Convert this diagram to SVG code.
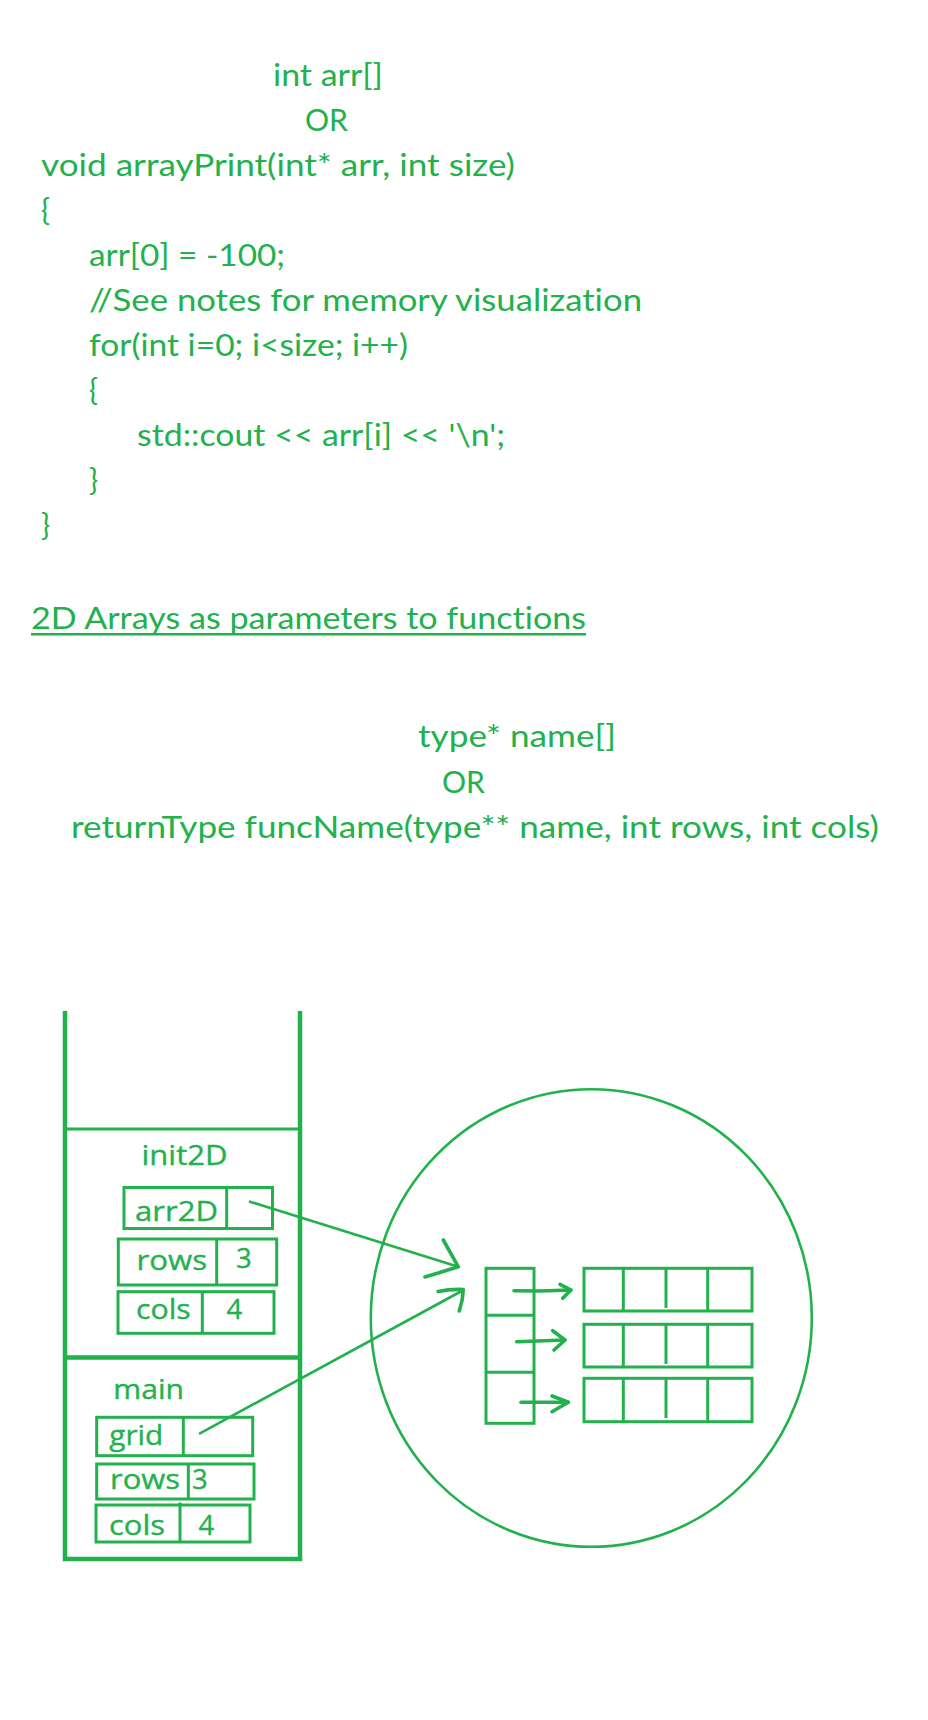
<svg xmlns="http://www.w3.org/2000/svg" width="928" height="1720" viewBox="0 0 928 1720">
  <style>
    .code { font-family: Lato, "Open Sans", "Liberation Sans", sans-serif; font-size: 30px; fill: #22B14C; font-variant-ligatures: none; font-feature-settings: "liga" 0, "clig" 0; }
    .lbl { font-family: "Open Sans", "DejaVu Sans", sans-serif; font-size: 27.5px; fill: #22B14C; stroke: #22B14C; stroke-width: 0.35; }
    .box { fill: none; stroke: #22B14C; stroke-width: 3; }
    .wall { fill: none; stroke: #22B14C; stroke-width: 4.5; stroke-linejoin: miter; }
    .cell { fill: none; stroke: #22B14C; stroke-width: 3; }
    .wire { fill: none; stroke: #22B14C; stroke-width: 2.6; stroke-linecap: round; stroke-linejoin: round; }
    .pen { fill: none; stroke: #22B14C; stroke-width: 3.6; stroke-linecap: round; stroke-linejoin: round; }
  </style>
  <rect width="928" height="1720" fill="#ffffff"/>

  <!-- 1D array parameter code -->
  <g id="code1d">
    <text class="code" x="273" y="86" textLength="110" lengthAdjust="spacingAndGlyphs">int arr[]</text>
    <text class="code" x="305" y="131" textLength="43" lengthAdjust="spacingAndGlyphs">OR</text>
    <text class="code" x="41" y="176" textLength="474" lengthAdjust="spacingAndGlyphs">void arrayPrint(int* arr, int size)</text>
    <text class="code" x="41" y="221">{</text>
    <text class="code" x="89" y="266" textLength="196" lengthAdjust="spacingAndGlyphs">arr[0] = -100;</text>
    <text class="code" x="89" y="311" textLength="553" lengthAdjust="spacingAndGlyphs">//See notes for memory visualization</text>
    <text class="code" x="89" y="356" textLength="319" lengthAdjust="spacingAndGlyphs">for(int i=0; i&lt;size; i++)</text>
    <text class="code" x="89" y="401">{</text>
    <text class="code" x="137" y="446" textLength="368" lengthAdjust="spacingAndGlyphs">std::cout &lt;&lt; arr[i] &lt;&lt; '\n';</text>
    <text class="code" x="89" y="491">}</text>
    <text class="code" x="41" y="536">}</text>
  </g>

  <!-- 2D array heading and signature -->
  <g id="heading2d">
    <text class="code" x="31" y="629" textLength="555" lengthAdjust="spacingAndGlyphs">2D Arrays as parameters to functions</text>
    <rect x="31" y="633" width="555" height="2.5" fill="#22B14C"/>
  </g>
  <g id="code2d">
    <text class="code" x="418" y="747" textLength="198" lengthAdjust="spacingAndGlyphs">type* name[]</text>
    <text class="code" x="442" y="793" textLength="43" lengthAdjust="spacingAndGlyphs">OR</text>
    <text class="code" x="71" y="838" textLength="808" lengthAdjust="spacingAndGlyphs">returnType funcName(type** name, int rows, int cols)</text>
  </g>

  <!-- call stack -->
  <g id="stack">
    <path class="wall" d="M65 1011 V1559 H300 V1011"/>
    <line x1="65" y1="1129" x2="300" y2="1129" stroke="#22B14C" stroke-width="3"/>
    <line x1="65" y1="1357.5" x2="300" y2="1357.5" stroke="#22B14C" stroke-width="4.5"/>
  </g>

  <g id="frame-init2D">
    <text class="lbl" x="141.5" y="1165" textLength="86" lengthAdjust="spacingAndGlyphs">init2D</text>
    <g id="init2D-arr2D">
      <rect class="box" x="124" y="1187.5" width="148.5" height="41"/>
      <line class="box" x1="226.7" y1="1187.5" x2="226.7" y2="1228.5"/>
      <text class="lbl" x="135" y="1220.5" textLength="83" lengthAdjust="spacingAndGlyphs">arr2D</text>
    </g>
    <g id="init2D-rows">
      <rect class="box" x="118.3" y="1239" width="158.4" height="46"/>
      <line class="box" x1="216.7" y1="1239" x2="216.7" y2="1285"/>
      <text class="lbl" x="136.5" y="1270" textLength="70.5" lengthAdjust="spacingAndGlyphs">rows</text>
      <text class="lbl" x="236" y="1268">3</text>
    </g>
    <g id="init2D-cols">
      <rect class="box" x="118" y="1291.7" width="156" height="41.6"/>
      <line class="box" x1="202.3" y1="1291.7" x2="202.3" y2="1333.3"/>
      <text class="lbl" x="136" y="1319.3" textLength="54.7" lengthAdjust="spacingAndGlyphs">cols</text>
      <text class="lbl" x="226.5" y="1319.3">4</text>
    </g>
  </g>

  <g id="frame-main">
    <text class="lbl" x="113.3" y="1399.3" textLength="70.7" lengthAdjust="spacingAndGlyphs">main</text>
    <g id="main-grid">
      <rect class="box" x="96.7" y="1417.3" width="156" height="38.4"/>
      <line class="box" x1="183.3" y1="1417.3" x2="183.3" y2="1455.7"/>
      <text class="lbl" x="109.3" y="1445" textLength="54" lengthAdjust="spacingAndGlyphs">grid</text>
    </g>
    <g id="main-rows">
      <rect class="box" x="96.7" y="1464" width="157.3" height="35"/>
      <line class="box" x1="188.3" y1="1464" x2="188.3" y2="1499"/>
      <text class="lbl" x="110" y="1489.3" textLength="70" lengthAdjust="spacingAndGlyphs">rows</text>
      <text class="lbl" x="192" y="1489.3">3</text>
    </g>
    <g id="main-cols">
      <rect class="box" x="96" y="1505" width="154" height="37"/>
      <line class="box" x1="180" y1="1502.5" x2="180" y2="1542"/>
      <text class="lbl" x="109" y="1535" textLength="56" lengthAdjust="spacingAndGlyphs">cols</text>
      <text class="lbl" x="198.5" y="1535">4</text>
    </g>
  </g>

  <!-- heap region -->
  <g id="heap">
    <ellipse cx="591.3" cy="1318" rx="220.5" ry="228.8" fill="none" stroke="#22B14C" stroke-width="2.6"/>
  </g>

  <g id="row-pointers">
    <rect class="cell" x="486" y="1268.3" width="48" height="155"/>
    <line class="cell" x1="486" y1="1315.3" x2="534" y2="1315.3"/>
    <line class="cell" x1="486" y1="1372.3" x2="534" y2="1372.3"/>
  </g>

  <g id="row0">
    <rect class="cell" x="584" y="1268.3" width="168" height="42.7"/>
    <line class="cell" x1="623.3" y1="1268.3" x2="623.3" y2="1311"/>
    <line class="cell" x1="666" y1="1268.3" x2="666" y2="1308"/>
    <line class="cell" x1="707.7" y1="1268.3" x2="707.7" y2="1311"/>
  </g>
  <g id="row1">
    <rect class="cell" x="584" y="1324.3" width="168" height="42.7"/>
    <line class="cell" x1="623.3" y1="1324.3" x2="623.3" y2="1367"/>
    <line class="cell" x1="666" y1="1324.3" x2="666" y2="1364"/>
    <line class="cell" x1="707.7" y1="1324.3" x2="707.7" y2="1367"/>
  </g>
  <g id="row2">
    <rect class="cell" x="584" y="1378.3" width="168" height="43.4"/>
    <line class="cell" x1="623.3" y1="1378.3" x2="623.3" y2="1421.7"/>
    <line class="cell" x1="666" y1="1378.3" x2="666" y2="1418"/>
    <line class="cell" x1="707.7" y1="1378.3" x2="707.7" y2="1421.7"/>
  </g>

  <!-- pointer connectors, drawn freehand -->
  <g id="connectors">
    <path class="wire" d="M250 1201.7 L458.3 1266.8"/>
    <path class="pen" stroke-width="3" d="M443.3 1240 L458.3 1266.8 L425 1277"/>
    <path class="wire" stroke-width="3" d="M200 1433.3 L461.7 1291"/>
    <path class="pen" stroke-width="3.2" d="M438 1291.5 Q450 1289 463.3 1289.5 Q463 1300 459.3 1311"/>

    <path class="pen" d="M514 1290.7 L540 1291 L571 1290"/>
    <path class="pen" d="M560 1284.3 L571 1290 L562.7 1298.3"/>
    <path class="pen" d="M516.7 1341.7 L565 1340"/>
    <path class="pen" d="M552.7 1330.7 L565 1340 L554 1350"/>
    <path class="pen" d="M521 1402.3 L568.3 1402.3"/>
    <path class="pen" d="M552 1396 L568.3 1402.3 L552 1411.7"/>
  </g>
</svg>
